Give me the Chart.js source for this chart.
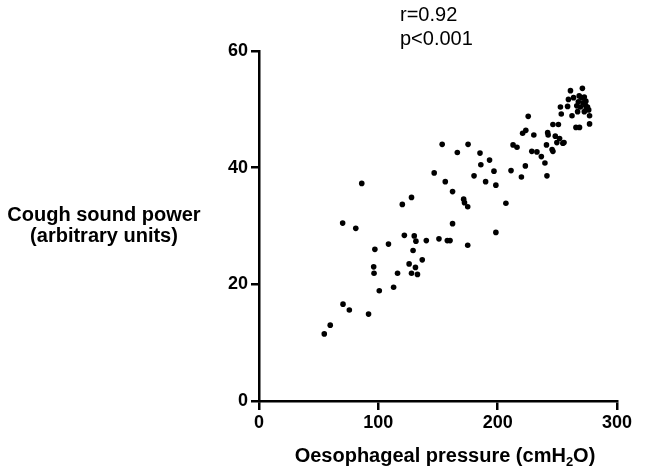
<!DOCTYPE html>
<html>
<head>
<meta charset="utf-8">
<script src="https://cdn.jsdelivr.net/npm/chart.js@4/dist/chart.umd.min.js"></script>
<style>
  body { margin: 0; background: #fff; }
  #wrap { width: 653px; height: 472px; }
</style>
</head>
<body>
<div id="wrap"><canvas id="coughChart" width="653" height="472"></canvas></div>
<script>
// Oesophageal pressure (cmH2O)
var pressure = [
  54.7, 59.7, 70.4, 75.7, 70.1, 81.1, 86.1, 91.8, 96.1, 96.4,
  97.1, 100.8, 108.5, 112.8, 116.1, 120.1, 121.8, 127.8, 125.8, 127.8,
  129.1, 130.1, 131.1, 131.5, 132.8, 136.8, 140.2, 146.8, 150.8, 153.5,
  156.1, 157.8, 160.1, 162.2, 162.2, 166.2, 171.5, 172.2, 174.9, 175.2,
  174.9, 180.2, 185.2, 185.9, 189.9, 193.2, 196.9, 198.5, 198.5, 206.9,
  211.2, 212.9, 216.2, 219.9, 220.9, 223.2, 223.6, 225.6, 228.6, 230.3,
  232.9, 236.6, 239.6, 240.9, 241.3, 241.9, 242.3, 245.6, 246.3, 246.3,
  248.3, 249.6, 250.9, 251.9, 252.6, 253.3, 254.6, 255.6, 258.6, 259.3,
  261.0, 262.3, 263.6, 265.6, 266.3, 267.0, 267.6, 268.3, 268.6, 269.3,
  270.3, 271.0, 271.6, 272.6, 272.6, 273.6, 274.3, 275.3, 276.3, 277.0,
  277.0, 273.9
];
// Cough sound power (arbitrary units)
var power = [
  11.5, 13.0, 16.6, 15.6, 30.5, 29.6, 37.3, 14.9, 23.0, 21.9,
  26.0, 18.9, 26.9, 19.5, 21.9, 33.7, 28.4, 34.9, 23.5, 21.9,
  25.8, 28.3, 22.9, 27.4, 21.7, 24.2, 27.5, 39.1, 27.8, 44.0,
  37.6, 27.5, 27.5, 35.9, 30.4, 42.6, 34.6, 34.0, 33.3, 44.0,
  26.7, 38.6, 42.5, 40.5, 37.6, 41.3, 39.4, 37.0, 28.9, 33.9,
  39.5, 43.9, 43.5, 38.4, 45.9, 40.3, 46.4, 48.8, 42.8, 45.6,
  42.7, 41.9, 40.8, 43.9, 38.6, 46.0, 45.6, 43.1, 42.8, 47.4,
  45.4, 44.3, 47.4, 45.0, 50.4, 49.2, 44.2, 44.3, 50.5, 51.7,
  53.2, 48.9, 52.0, 46.9, 50.6, 49.6, 51.3, 52.3, 46.9, 50.4,
  52.0, 53.6, 51.1, 52.1, 49.6, 50.7, 50.2, 50.4, 49.9, 48.9,
  47.5, 51.4
];
var statLines = ["r=0.92", "p<0.001"];
var yTitleLines = ["Cough sound power", "(arbitrary units)"];

var points = pressure.map(function (x, i) { return { x: x, y: power[i] }; });

var FONT = "Arial, 'Liberation Sans', Helvetica, sans-serif";

// draws the stats text, the horizontal y title and the x title with subscript
var labelsPlugin = {
  id: "labels",
  afterDraw: function (chart) {
    var ctx = chart.ctx;
    ctx.save();
    ctx.fillStyle = "#000";
    ctx.textBaseline = "alphabetic";

    ctx.font = "20px " + FONT;
    ctx.textAlign = "left";
    ctx.fillText(statLines[0], 400, 21);
    ctx.fillText(statLines[1], 400, 45);

    ctx.font = "bold 20px " + FONT;
    ctx.textAlign = "center";
    ctx.fillText(yTitleLines[0], 104, 221);
    ctx.fillText(yTitleLines[1], 104, 242);

    // x title: Oesophageal pressure (cmH2O) with subscript 2
    var a = "Oesophageal pressure (cmH", b = "2", c = "O)";
    ctx.font = "bold 20px " + FONT;
    var wa = ctx.measureText(a).width, wc = ctx.measureText(c).width;
    ctx.font = "bold 13px " + FONT;
    var wb = ctx.measureText(b).width;
    var x0 = 445 - (wa + wb + wc) / 2;
    ctx.textAlign = "left";
    ctx.font = "bold 20px " + FONT;
    ctx.fillText(a, x0, 462);
    ctx.font = "bold 13px " + FONT;
    ctx.fillText(b, x0 + wa, 466);
    ctx.font = "bold 20px " + FONT;
    ctx.fillText(c, x0 + wa + wb, 462);
    ctx.restore();
  }
};

var ctx = document.getElementById("coughChart").getContext("2d");
var coughChart = new Chart(ctx, {
  type: "scatter",
  data: {
    datasets: [{
      label: "Cough",
      data: points,
      backgroundColor: "#000",
      borderColor: "#000",
      borderWidth: 0,
      pointRadius: 2.8,
      pointHoverRadius: 2.8
    }]
  },
  options: {
    responsive: false,
    animation: false,
    layout: { padding: { top: 51, right: 36, bottom: 0, left: 0 } },
    plugins: {
      legend: { display: false },
      tooltip: { enabled: false }
    },
    scales: {
      x: {
        type: "linear",
        min: 0,
        max: 300,
        afterFit: function (scale) { scale.height = 71; },
        border: { display: true, color: "#000", width: 2.5 },
        grid: { drawOnChartArea: false, drawTicks: true, tickLength: 9, color: "#000", lineWidth: 2.5 },
        ticks: {
          stepSize: 100,
          color: "#000",
          padding: 2,
          font: { family: FONT, size: 18, weight: "bold" }
        }
      },
      y: {
        type: "linear",
        min: 0,
        max: 60,
        afterFit: function (scale) { scale.width = 259; },
        border: { display: true, color: "#000", width: 2.5 },
        grid: { drawOnChartArea: false, drawTicks: true, tickLength: 8, color: "#000", lineWidth: 2.5 },
        ticks: {
          stepSize: 20,
          color: "#000",
          padding: 3,
          font: { family: FONT, size: 18, weight: "bold" }
        }
      }
    }
  },
  plugins: [labelsPlugin]
});
</script>
</body>
</html>
